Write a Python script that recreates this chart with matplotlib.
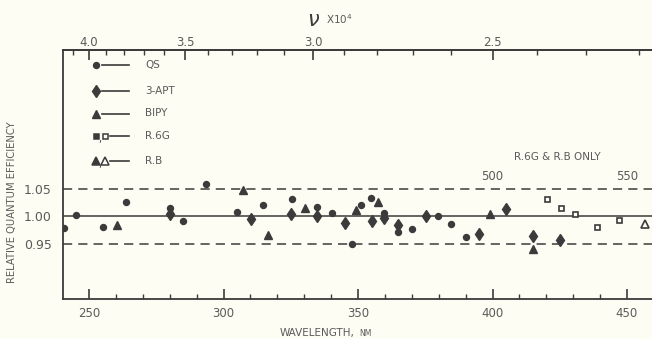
import numpy as np
import matplotlib
matplotlib.use("Agg")
import matplotlib.pyplot as plt
from matplotlib.ticker import FixedLocator, NullFormatter

plt.rcParams["font.family"] = ["DejaVu Sans"]

# readings: wavelength (nm), relative quantum efficiency
qs_wl = [240.8, 245.0, 255.1, 263.9, 280.0, 284.8, 293.5, 304.9, 314.7, 325.3,
         334.9, 340.3, 347.6, 351.0, 354.8, 359.8, 364.8, 369.9, 379.7, 384.6, 390.0]
qs_q = [0.979, 1.003, 0.981, 1.027, 1.015, 0.992, 1.059, 1.009, 1.020, 1.031,
        1.018, 1.006, 0.950, 1.020, 1.034, 1.006, 0.972, 0.977, 1.000, 0.986, 0.963]

apt_wl = [280.0, 310.1, 325.1, 334.9, 345.3, 355.3, 359.8, 364.8, 375.1, 395.1,
          405.0, 415.2, 425.2]
apt_q = [1.005, 0.995, 1.004, 1.000, 0.989, 0.992, 0.998, 0.985, 1.000, 0.968,
         1.013, 0.965, 0.957]

bipy_wl = [260.4, 307.1, 316.7, 330.4, 349.1, 357.3, 398.9, 415.2]
bipy_q = [0.985, 1.048, 0.966, 1.016, 1.012, 1.027, 1.004, 0.940]

# R.6G & R.B only, read on the inner 500-550 scale
r6g_wl = [520.4, 525.3, 530.8, 538.7, 547.0]
r6g_q = [1.031, 1.015, 1.004, 0.981, 0.994]
rb_wl = [556.7]
rb_q = [0.986]
R_OFFSET = 100  # inner scale sits 100 nm above the bottom one

legend_labels = ["QS", "3-APT", "BIPY", "R.6G", "R.B"]

INK = "#3b3b3b"
TXT = "#5a5a5a"
BG = "#fdfdf3"

fig = plt.figure(figsize=(6.52, 3.39), dpi=100, facecolor=BG)
ax = fig.add_axes([63 / 652, 40 / 339, 589 / 652, 249 / 339], facecolor=BG)
ax.set_xlim(240.3, 459.3)
ax.set_ylim(0.85, 1.3027)


def ax_xy(px, py):
    # pixel position in the 652x339 picture -> axes fraction
    return (px - 63) / 589, (299 - py) / 249


ax.axhline(1.00, color=INK, lw=1.1, zorder=1)
for yv in (1.05, 0.95):
    ax.axhline(yv, color=INK, lw=1.1, ls=(0, (6, 4)), zorder=1)

mk = dict(ls="none", color=INK, zorder=3)
ax.plot(qs_wl, qs_q, marker="o", ms=4.3, **mk)
ax.plot(apt_wl, apt_q, marker="d", ms=6.5, **mk)
ax.plot(bipy_wl, bipy_q, marker="^", ms=5.8, **mk)
ax.plot(np.array(r6g_wl) - R_OFFSET, r6g_q, marker="s", ms=3.6, mfc=BG, mec=INK,
        mew=1.2, ls="none", zorder=3)
ax.plot(np.array(rb_wl) - R_OFFSET, rb_q, marker="^", ms=5.5, mfc=BG, mec=INK,
        mew=1.2, ls="none", zorder=3)

# spines and ticks
ax.spines["right"].set_visible(False)
for s in ("left", "bottom", "top"):
    ax.spines[s].set_color(INK)
    ax.spines[s].set_linewidth(1.3)

ax.set_xticks([250, 300, 350, 400, 450])
ax.xaxis.set_minor_locator(FixedLocator(np.arange(250, 460, 10)))
ax.tick_params(axis="x", which="major", direction="in", length=7, width=1.2,
               color=INK, labelsize=8.5, labelcolor=TXT, pad=6)
ax.tick_params(axis="x", which="minor", direction="in", length=3.5, width=1,
               color=INK)
ax.set_yticks([0.95, 1.00, 1.05])
ax.set_yticklabels(["0.95", "1.00", "1.05"])
ax.tick_params(axis="y", length=0, labelsize=9, labelcolor=TXT, pad=8)

fig.text(355 / 652, 1 - 333 / 339, "WAVELENGTH,", fontsize=7.5, color=TXT,
         ha="right", va="center")
fig.text(359 / 652, 1 - 333.5 / 339, "NM", fontsize=5.5, color=TXT,
         ha="left", va="center")
ax.set_ylabel("RELATIVE QUANTUM EFFICIENCY", fontsize=7.2, color=TXT)
ax.yaxis.set_label_coords(-0.078, 0.39)

top = ax.secondary_xaxis("top", functions=(lambda x: 1000 / x, lambda x: 1000 / x))
top.set_xticks([4.0, 3.5, 3.0, 2.5])
top.set_xticklabels(["4.0", "3.5", "3.0", "2.5"])
top.xaxis.set_minor_locator(FixedLocator(np.round(np.arange(2.2, 4.15, 0.1), 2)))
top.xaxis.set_minor_formatter(NullFormatter())
top.tick_params(axis="x", which="major", direction="in", length=7, width=1.2,
                color=INK, labelsize=8.5, labelcolor=TXT, pad=1)
top.tick_params(axis="x", which="minor", direction="in", length=3.5, width=1,
                color=INK)
top.spines["top"].set_color(INK)
top.spines["top"].set_linewidth(1.3)

fig.text(307 / 652, 1 - 20 / 339, r"$\nu$", fontsize=15, color=INK,
         ha="left", va="center")
fig.text(326 / 652, 1 - 19 / 339, "X10$^4$", fontsize=7.5, color=TXT,
         ha="left", va="center")

# inner scale for the R.6G / R.B region
for v in (500, 550):
    ax.text(v - R_OFFSET, (299 - 177) / 249, str(v), fontsize=8.5, color=TXT,
            ha="center", va="center", transform=ax.get_xaxis_transform())
xr, yr = ax_xy(557, 157.5)
ax.text(xr, yr, "R.6G & R.B ONLY", fontsize=7.5, color=TXT,
        ha="center", va="center", transform=ax.transAxes)

# hand-drawn style key in the upper left
key_rows = [65, 90.5, 113.5, 136, 161]
key_specs = [
    [("o", 4.3, INK)],
    [("d", 6.5, INK)],
    [("^", 5.8, INK)],
    [("s", 3.6, INK), ("s", 3.6, BG)],
    [("^", 5.5, INK), ("^", 5.5, BG)],
]
for py, spec, lab in zip(key_rows, key_specs, legend_labels):
    if len(spec) == 1:
        m, ms, fc = spec[0]
        x0, y0 = ax_xy(95.5, py)
        ax.plot([x0], [y0], marker=m, ms=ms, color=INK, mfc=fc,
                transform=ax.transAxes, clip_on=False)
        xa, _ = ax_xy(102, py)
    else:
        for (m, ms, fc), px in zip(spec, (95.5, 105)):
            x0, y0 = ax_xy(px, py)
            ax.plot([x0], [y0], marker=m, ms=ms, color=INK, mfc=fc, mew=1.1,
                    transform=ax.transAxes, clip_on=False)
        xc, yc = ax_xy(100, py + 3)
        ax.text(xc, yc, ",", fontsize=7, color=INK, ha="center", va="center",
                transform=ax.transAxes)
        xa, _ = ax_xy(110, py)
    xb, yl = ax_xy(128.5, py)
    ax.plot([xa, xb], [yl, yl], color=INK, lw=1.2, transform=ax.transAxes)
    xt, _ = ax_xy(145, py)
    ax.text(xt, yl, lab, fontsize=7.5, color=TXT, ha="left", va="center",
            transform=ax.transAxes)

fig.savefig("out.png", dpi=100, facecolor=BG)
